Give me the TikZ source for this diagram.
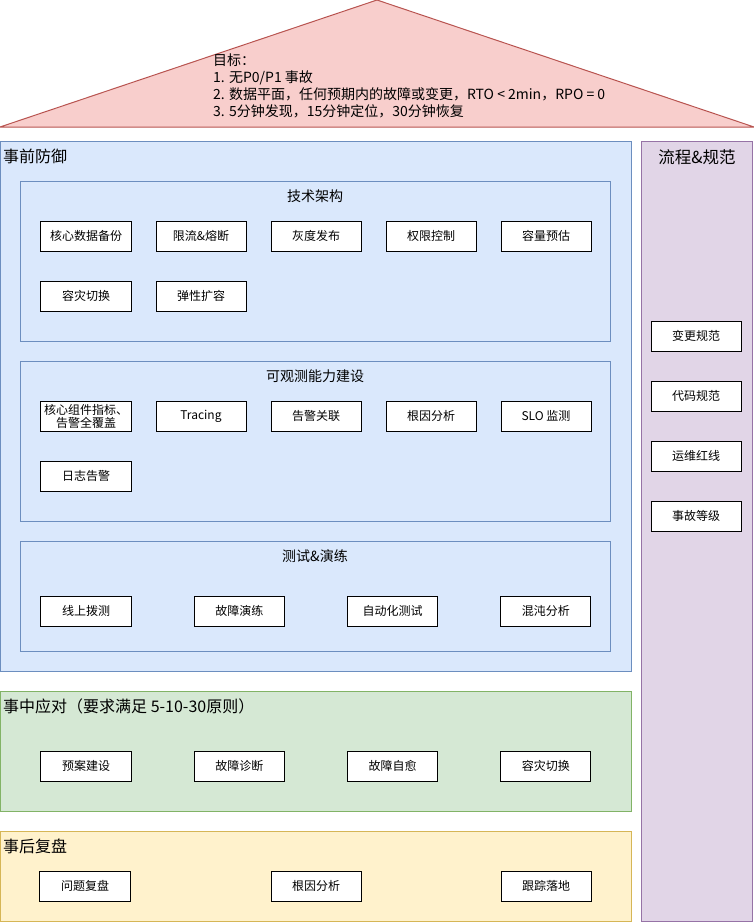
\documentclass[tikz,border=0pt]{standalone}
\usepackage{fontspec}
\setmainfont{Noto Sans CJK SC}
\usetikzlibrary{positioning}
\definecolor{goalfill}{HTML}{F8CECC}
\definecolor{goaldraw}{HTML}{B85450}
\definecolor{bluefill}{HTML}{DAE8FC}
\definecolor{bluedraw}{HTML}{6C8EBF}
\definecolor{greenfill}{HTML}{D5E8D4}
\definecolor{greendraw}{HTML}{82B366}
\definecolor{yellowfill}{HTML}{FFF2CC}
\definecolor{yellowdraw}{HTML}{D6B656}
\definecolor{purplefill}{HTML}{E1D5E7}
\definecolor{purpledraw}{HTML}{9673A6}
\tikzset{
  item/.style={draw, fill=white, line width=1bp, minimum width=90bp, minimum height=30bp,
    inner sep=0pt, outer sep=0pt, align=center, font=\fontsize{12bp}{14bp}\selectfont},
  panel/.style 2 args={draw=#2, fill=#1, line width=1bp, anchor=north west, inner sep=0pt, outer sep=0pt},
  group/.style={panel={bluefill}{bluedraw}, minimum width=590bp},
  title/.style={anchor=west, inner sep=2bp, font=\fontsize{16bp}{18bp}\selectfont},
  subtitle/.style={inner sep=0pt, font=\fontsize{14bp}{16bp}\selectfont},
}
\begin{document}
\begin{tikzpicture}[x=1bp, y=-1bp, node distance=25bp]
    \useasboundingbox (0,0) rectangle (754,922);
    % goal roof
    \draw[fill=goalfill, draw=goaldraw, line width=1bp] (0,127) -- (377,0) -- (754,127) -- cycle;
    \node[anchor=west, inner sep=0pt, align=left, font=\fontsize{14bp}{17bp}\selectfont] (goal) at (213,86)
      {目标：\\1. 无P0/P1 事故\\2. 数据平面，任何预期内的故障或变更，RTO < 2min，RPO = 0\\3. 5分钟发现，15分钟定位，30分钟恢复};

    % before the incident
    \node[panel={bluefill}{bluedraw}, minimum width=631bp, minimum height=530bp] (before) at (0,141) {};
    \node[title] (beforet) at (1,156) {事前防御};

    \node[group, minimum height=160bp] (arch) at (20,181) {};
    \node[subtitle] (archt) at (315,196) {技术架构};
    \node[item] (a1) at (86,236) {核心数据备份};
    \node[item, right=of a1] (a2) {限流\&熔断};
    \node[item, right=of a2] (a3) {灰度发布};
    \node[item, right=of a3] (a4) {权限控制};
    \node[item, right=of a4] (a5) {容量预估};
    \node[item, below=30bp of a1] (a6) {容灾切换};
    \node[item, right=of a6] (a7) {弹性扩容};

    \node[group, minimum height=160bp] (obs) at (20,361) {};
    \node[subtitle] (obst) at (315,376) {可观测能力建设};
    \node[item, font=\fontsize{12bp}{13bp}\selectfont] (o1) at (86,416) {核心组件指标、\\告警全覆盖};
    \node[item, right=of o1] (o2) {Tracing};
    \node[item, right=of o2] (o3) {告警关联};
    \node[item, right=of o3] (o4) {根因分析};
    \node[item, right=of o4] (o5) {SLO 监测};
    \node[item, below=30bp of o1] (o6) {日志告警};

    \node[group, minimum height=110bp] (test) at (20,541) {};
    \node[subtitle] (testt) at (315,556) {测试\&演练};
    \node[item] (t1) at (86,611) {线上拨测};
    \node[item, right=63.3bp of t1] (t2) {故障演练};
    \node[item, right=63.3bp of t2] (t3) {自动化测试};
    \node[item, right=63.3bp of t3] (t4) {混沌分析};

    % during the incident
    \node[panel={greenfill}{greendraw}, minimum width=631bp, minimum height=120bp] (during) at (0,691) {};
    \node[title] (duringt) at (1,706) {事中应对（要求满足 5-10-30原则）};
    \node[item] (d1) at (86,766) {预案建设};
    \node[item, right=63.3bp of d1] (d2) {故障诊断};
    \node[item, right=63.3bp of d2] (d3) {故障自愈};
    \node[item, right=63.3bp of d3] (d4) {容灾切换};

    % after the incident
    \node[panel={yellowfill}{yellowdraw}, minimum width=631bp, minimum height=90bp] (after) at (0,831) {};
    \node[title] (aftert) at (1,846) {事后复盘};
    \node[item] (r1) at (85,886) {问题复盘};
    \node[item, right=141bp of r1] (r2) {根因分析};
    \node[item, right=140bp of r2] (r3) {跟踪落地};

    % process and rules
    \node[panel={purplefill}{purpledraw}, minimum width=111bp, minimum height=780bp] (rules) at (641,141) {};
    \node[title, anchor=center, inner sep=0pt, font=\fontsize{16.5bp}{18bp}\selectfont] (rulest) at (697,157) {流程\&规范};
    \node[item] (p1) at (696,336) {变更规范};
    \node[item, below=30bp of p1] (p2) {代码规范};
    \node[item, below=30bp of p2] (p3) {运维红线};
    \node[item, below=30bp of p3] (p4) {事故等级};
  \end{tikzpicture}
\end{document}
